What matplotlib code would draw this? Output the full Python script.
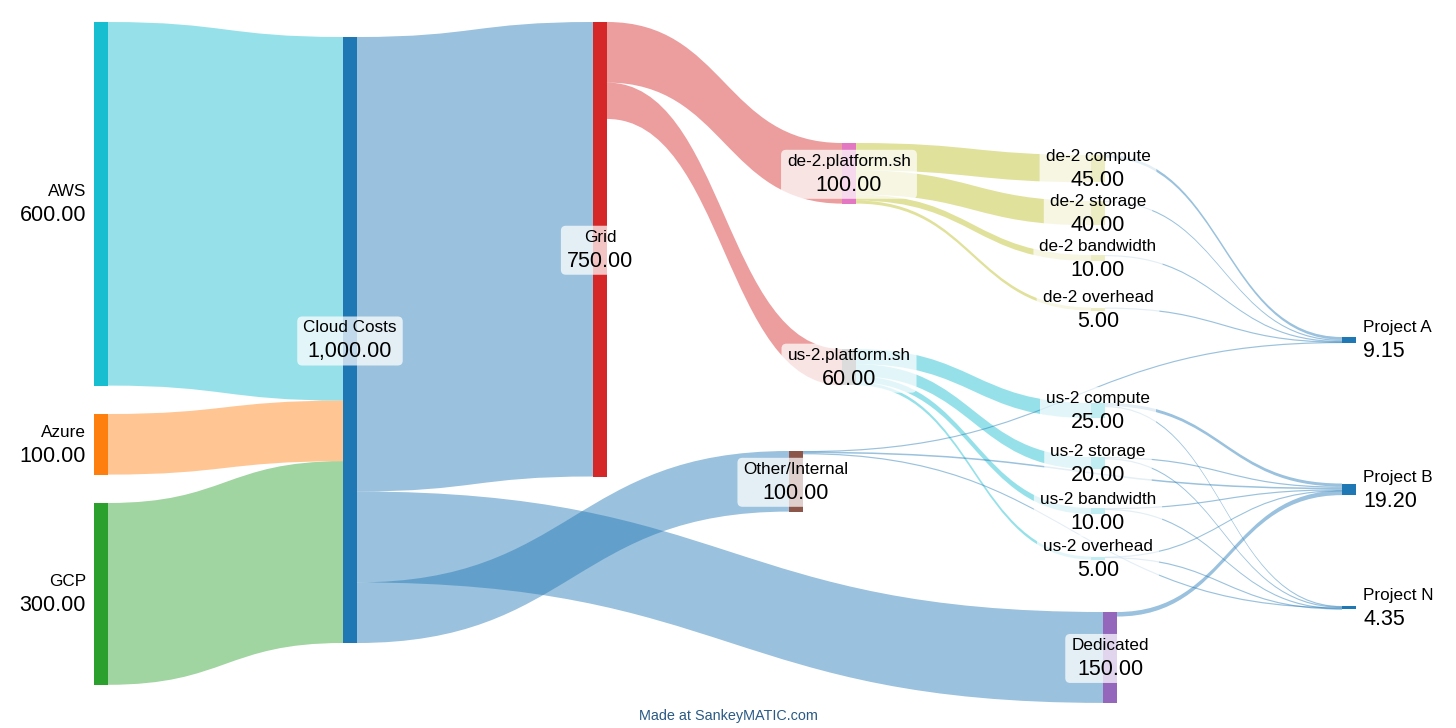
import matplotlib
matplotlib.use('Agg')
import matplotlib.pyplot as plt
from matplotlib.path import Path
from matplotlib.patches import PathPatch, Rectangle, FancyBboxPatch

plt.rcParams['font.family'] = ['Liberation Sans', 'DejaVu Sans']

# ---- data ----
flow_from = ['AWS', 'Azure', 'GCP',
             'Cloud Costs', 'Cloud Costs', 'Cloud Costs',
             'Grid', 'Grid',
             'de-2.platform.sh', 'de-2.platform.sh', 'de-2.platform.sh', 'de-2.platform.sh',
             'us-2.platform.sh', 'us-2.platform.sh', 'us-2.platform.sh', 'us-2.platform.sh',
             'de-2 compute', 'de-2 storage', 'de-2 bandwidth', 'de-2 overhead',
             'Other/Internal', 'Other/Internal', 'Other/Internal',
             'us-2 compute', 'us-2 compute', 'us-2 storage', 'us-2 storage',
             'us-2 bandwidth', 'us-2 bandwidth', 'us-2 overhead', 'us-2 overhead',
             'Dedicated']
flow_to = ['Cloud Costs', 'Cloud Costs', 'Cloud Costs',
           'Grid', 'Dedicated', 'Other/Internal',
           'de-2.platform.sh', 'us-2.platform.sh',
           'de-2 compute', 'de-2 storage', 'de-2 bandwidth', 'de-2 overhead',
           'us-2 compute', 'us-2 storage', 'us-2 bandwidth', 'us-2 overhead',
           'Project A', 'Project A', 'Project A', 'Project A',
           'Project A', 'Project B', 'Project N',
           'Project B', 'Project N', 'Project B', 'Project N',
           'Project B', 'Project N', 'Project B', 'Project N',
           'Project B']
flow_amount = [600, 100, 300,
               750, 150, 100,
               100, 60,
               45, 40, 10, 5,
               25, 20, 10, 5,
               4.5, 2.0, 1.0, 0.65,
               1.0, 2.5, 1.5,
               5.0, 1.0, 2.0, 1.0,
               1.5, 0.5, 0.7, 0.35,
               7.5]

left_nodes = ['AWS', 'Azure', 'GCP']
right_nodes = ['Project A', 'Project B', 'Project N']
resource_nodes = ['de-2 compute', 'de-2 storage', 'de-2 bandwidth', 'de-2 overhead',
                  'us-2 compute', 'us-2 storage', 'us-2 bandwidth', 'us-2 overhead']

# ---- layout (pixels) ----
W, H = 1456, 728
PX = 0.606
NW = 14
node_pos = {
    'AWS': (94, 22), 'Azure': (94, 414), 'GCP': (94, 503),
    'Cloud Costs': (343, 37),
    'Grid': (593, 22),
    'de-2.platform.sh': (842, 143), 'us-2.platform.sh': (842, 349),
    'Other/Internal': (789, 451),
    'de-2 compute': (1091, 155), 'de-2 storage': (1091, 201),
    'de-2 bandwidth': (1091, 255), 'de-2 overhead': (1091, 307.5),
    'us-2 compute': (1091, 403), 'us-2 storage': (1091, 457),
    'us-2 bandwidth': (1091, 508), 'us-2 overhead': (1091, 556.5),
    'Dedicated': (1103, 612),
    'Project A': (1342, 337), 'Project B': (1342, 483.5), 'Project N': (1342, 606),
}
node_color = {
    'AWS': '#17becf', 'Azure': '#ff7f0e', 'GCP': '#2ca02c',
    'Cloud Costs': '#1f77b4', 'Grid': '#d62728',
    'de-2.platform.sh': '#e377c2', 'us-2.platform.sh': '#7f7f7f',
    'Other/Internal': '#8c564b', 'Dedicated': '#9467bd',
    'Project A': '#1f77b4', 'Project B': '#1f77b4', 'Project N': '#1f77b4',
}
for n in resource_nodes:
    node_color[n] = '#bcbd22' if n.startswith('de-2') else '#17becf'

# node totals
inflow, outflow = {}, {}
for s, t, v in zip(flow_from, flow_to, flow_amount):
    outflow[s] = outflow.get(s, 0) + v
    inflow[t] = inflow.get(t, 0) + v
node_value = {n: max(inflow.get(n, 0), outflow.get(n, 0)) for n in node_pos}


def center(n):
    return node_pos[n][1] + node_value[n] * PX / 2


fig = plt.figure(figsize=(W / 100, H / 100), dpi=100)
ax = fig.add_axes([0, 0, 1, 1])
ax.set_xlim(0, W)
ax.set_ylim(H, 0)
ax.axis('off')

# stacking offsets: outflows in listed order, inflows sorted by source position
out_off = {n: node_pos[n][1] for n in node_pos}
src_y = {}
for i, (s, v) in enumerate(zip(flow_from, flow_amount)):
    src_y[i] = out_off[s]
    out_off[s] += v * PX
dst_y = {}
in_off = {n: node_pos[n][1] for n in node_pos}
for i in sorted(range(len(flow_to)), key=lambda k: center(flow_from[k])):
    t = flow_to[i]
    dst_y[i] = in_off[t]
    in_off[t] += flow_amount[i] * PX

target_colored = set(resource_nodes + right_nodes)
for i, (s, t, v) in enumerate(zip(flow_from, flow_to, flow_amount)):
    w = max(v * PX, 1.2)
    x0 = node_pos[s][0] + NW
    x1 = node_pos[t][0]
    y0, y1 = src_y[i], dst_y[i]
    xm = (x0 + x1) / 2
    verts = [(x0, y0), (xm, y0), (xm, y1), (x1, y1),
             (x1, y1 + w), (xm, y1 + w), (xm, y0 + w), (x0, y0 + w), (x0, y0)]
    codes = [Path.MOVETO, Path.CURVE4, Path.CURVE4, Path.CURVE4,
             Path.LINETO, Path.CURVE4, Path.CURVE4, Path.CURVE4, Path.CLOSEPOLY]
    c = node_color[t] if t in target_colored else node_color[s]
    ax.add_patch(PathPatch(Path(verts, codes), facecolor=c, edgecolor='none',
                           alpha=0.45, zorder=1))

for n, (x, y) in node_pos.items():
    ax.add_patch(Rectangle((x, y), NW, max(node_value[n] * PX, 1.5),
                           facecolor=node_color[n], edgecolor='none', zorder=2))

# labels
NAME_FS, VAL_FS = 12.3, 15.5
boxed = []
for n, (x, y) in node_pos.items():
    c = center(n)
    if n in left_nodes:
        tx, ha = x - 8, 'right'
    elif n in right_nodes:
        tx, ha = x + NW + 7, 'left'
    else:
        tx, ha = x + NW / 2, 'center'
    t1 = ax.text(tx, c - 7.5, n, fontsize=NAME_FS, ha=ha, va='baseline',
                 color='black', zorder=4)
    t2 = ax.text(tx, c + 17.5, f'{node_value[n]:,.2f}', fontsize=VAL_FS, ha=ha,
                 va='baseline', color='black', zorder=4)
    if n not in left_nodes and n not in right_nodes:
        boxed.append((t1, t2))

fig.canvas.draw()
renderer = fig.canvas.get_renderer()
inv = ax.transData.inverted()
for t1, t2 in boxed:
    b1 = t1.get_window_extent(renderer)
    b2 = t2.get_window_extent(renderer)
    (ax0, ay0) = inv.transform((min(b1.x0, b2.x0), min(b1.y0, b2.y0)))
    (ax1, ay1) = inv.transform((max(b1.x1, b2.x1), max(b1.y1, b2.y1)))
    top, bot = min(ay0, ay1), max(ay0, ay1)
    ax.add_patch(FancyBboxPatch((ax0 - 6, top - 4), (ax1 - ax0) + 12, (bot - top) + 7,
                                boxstyle='round,pad=0,rounding_size=5',
                                facecolor='white', edgecolor='none', alpha=0.73,
                                zorder=3))

ax.text(W / 2, 716, 'Made at SankeyMATIC.com', fontsize=10.4, ha='center',
        va='center', color='#2a5a85')

fig.savefig('out.png', dpi=100)
